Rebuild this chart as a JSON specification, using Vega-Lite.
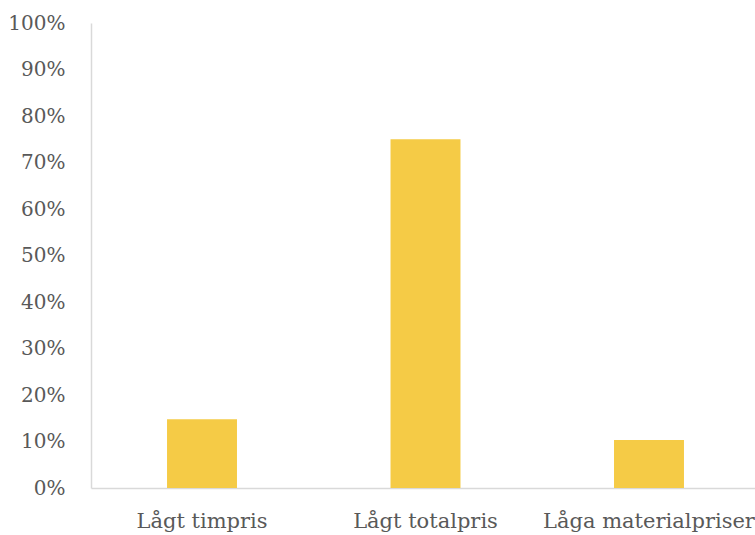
{
  "$schema": "https://vega.github.io/schema/vega-lite/v6.json",
  "width": 664,
  "height": 465,
  "autosize": {"type": "none"},
  "padding": {"left": 91, "top": 23, "right": 0, "bottom": 47},
  "background": "white",
  "config": {
    "view": {"stroke": null},
    "font": "DejaVu Serif"
  },
  "data": {
    "values": [
      {"kategori": "Lågt timpris", "andel": 0.148},
      {"kategori": "Lågt totalpris", "andel": 0.75},
      {"kategori": "Låga materialpriser", "andel": 0.103}
    ]
  },
  "mark": {"type": "bar", "color": "#F5CB46"},
  "encoding": {
    "x": {
      "field": "kategori",
      "type": "nominal",
      "sort": null,
      "scale": {"paddingInner": 0.687, "paddingOuter": 0.329, "align": 0.517},
      "axis": {
        "title": null,
        "labelAngle": 0,
        "labelFont": "DejaVu Serif",
        "labelFontSize": 21,
        "labelColor": "#595959",
        "labelPadding": 22,
        "labelLimit": 0,
        "labelOverlap": false,
        "ticks": false,
        "domainColor": "#D9D9D9",
        "domainWidth": 1.5,
        "grid": false
      }
    },
    "y": {
      "field": "andel",
      "type": "quantitative",
      "scale": {"domain": [0, 1]},
      "axis": {
        "title": null,
        "format": ".0%",
        "values": [0, 0.1, 0.2, 0.3, 0.4, 0.5, 0.6, 0.7, 0.8, 0.9, 1],
        "labelFont": "DejaVu Serif",
        "labelFontSize": 20,
        "labelColor": "#595959",
        "labelPadding": 26,
        "ticks": false,
        "grid": false,
        "domainColor": "#D9D9D9",
        "domainWidth": 1.5
      }
    }
  }
}
